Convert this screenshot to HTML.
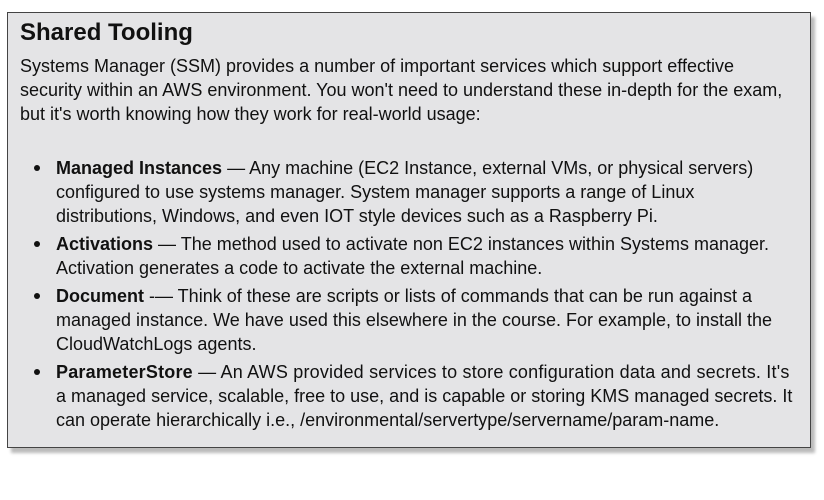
<!DOCTYPE html>
<html><head><style>
body{margin:0;width:824px;height:500px;background:#fff;position:relative;overflow:hidden;font-family:"Liberation Sans",sans-serif;color:#111}
.box{position:absolute;left:7px;top:12px;width:802px;height:434px;background:#e4e4e6;border:1.5px solid #444;box-shadow:4px 5px 3px #bbb}
.l{position:absolute;white-space:nowrap;font-size:18px;line-height:22px;letter-spacing:0}
.t{position:absolute;left:20px;top:19px;font-size:24px;font-weight:bold}
.d{position:absolute;left:34px;width:6px;height:6px;border-radius:50%;background:#111}
b{font-weight:bold}
</style></head><body>
<div class="box"></div>
<div class="t">Shared Tooling</div>
<div class="l" style="left:20px;top:55px">Systems Manager (SSM) provides a number of important services which support effective</div>
<div class="l" style="left:20px;top:79px">security within an AWS environment. You won't need to understand these in-depth for the exam,</div>
<div class="l" style="left:20px;top:103px">but it's worth knowing how they work for real-world usage:</div>

<div class="d" style="top:165px"></div>
<div class="l" style="left:56px;top:157px"><b>Managed Instances</b> — Any machine (EC2 Instance, external VMs, or physical servers)</div>
<div class="l" style="left:56px;top:181px">configured to use systems manager. System manager supports a range of Linux</div>
<div class="l" style="left:56px;top:205px">distributions, Windows, and even IOT style devices such as a Raspberry Pi.</div>

<div class="d" style="top:241px"></div>
<div class="l" style="left:56px;top:233px"><b>Activations</b> — The method used to activate non EC2 instances within Systems manager.</div>
<div class="l" style="left:56px;top:257px">Activation generates a code to activate the external machine.</div>

<div class="d" style="top:293px"></div>
<div class="l" style="left:56px;top:285px"><b>Document</b> -— Think of these are scripts or lists of commands that can be run against a</div>
<div class="l" style="left:56px;top:309px">managed instance. We have used this elsewhere in the course. For example, to install the</div>
<div class="l" style="left:56px;top:333px">CloudWatchLogs agents.</div>

<div class="d" style="top:369px"></div>
<div class="l" style="left:56px;top:361px;letter-spacing:0.2px"><b>ParameterStore</b> — An AWS provided services to store configuration data and secrets. It's</div>
<div class="l" style="left:56px;top:385px">a managed service, scalable, free to use, and is capable or storing KMS managed secrets. It</div>
<div class="l" style="left:56px;top:409px">can operate hierarchically i.e., /environmental/servertype/servername/param-name.</div>
</body></html>
